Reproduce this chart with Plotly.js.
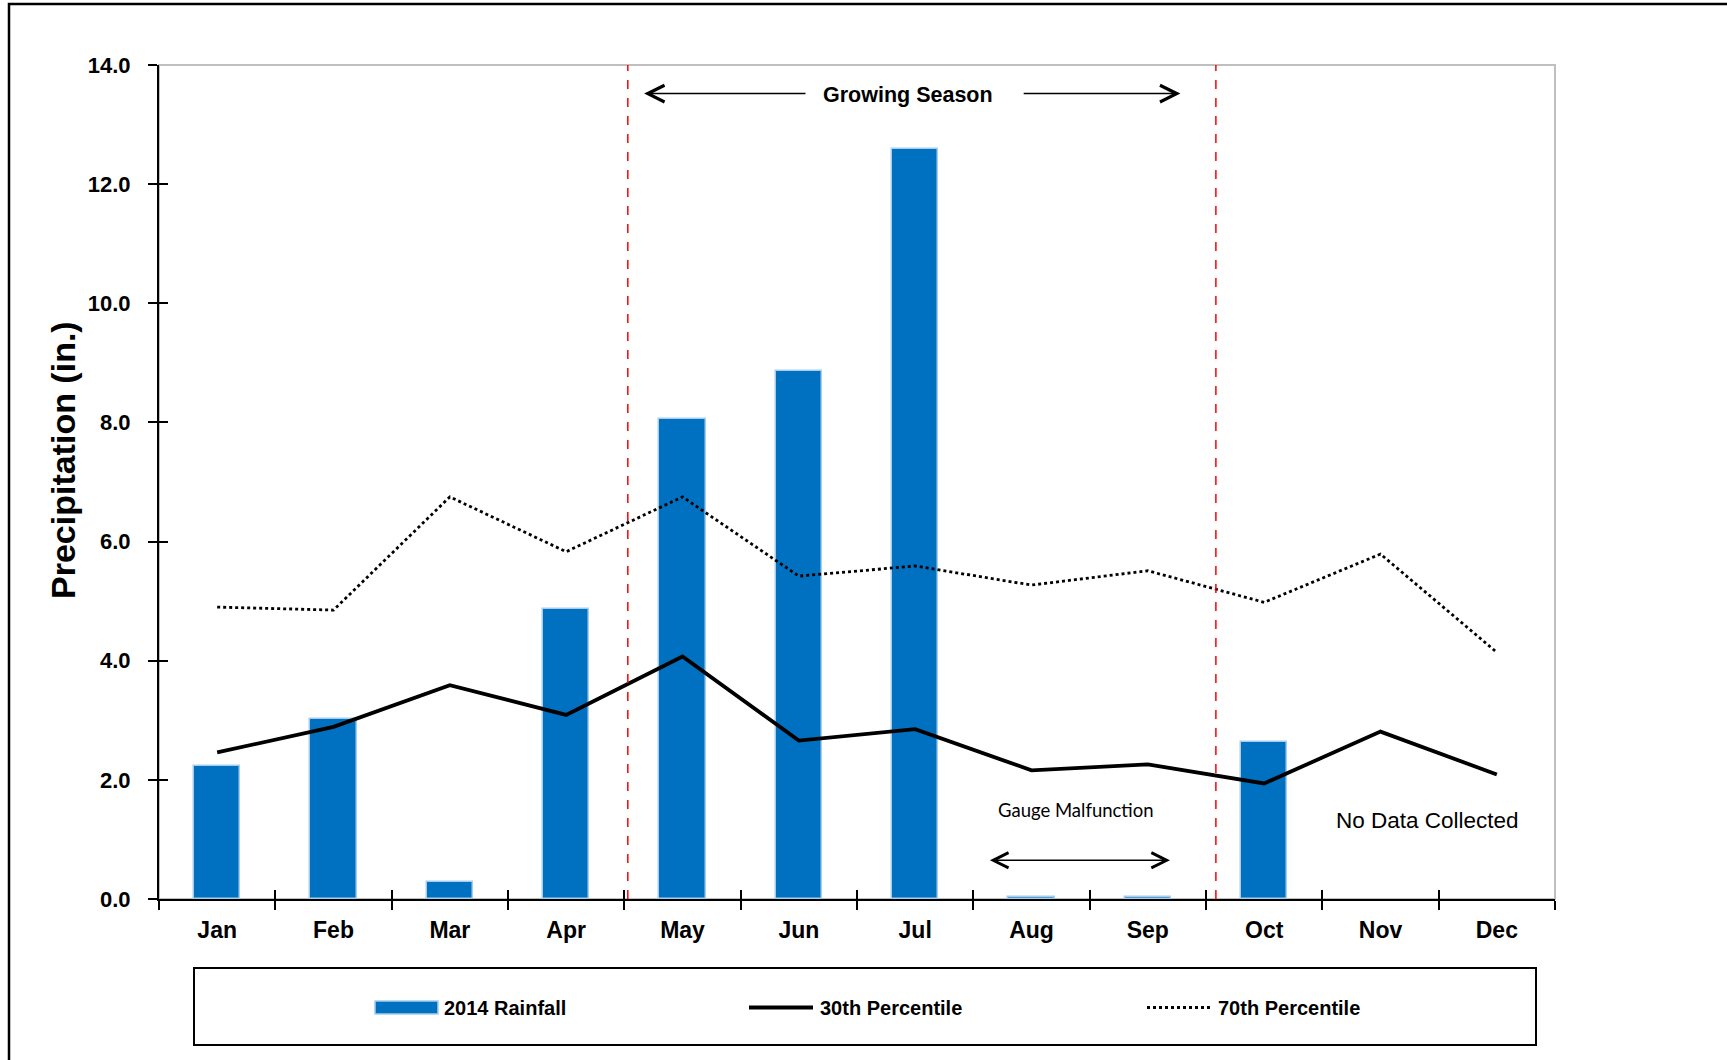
<!DOCTYPE html>
<html>
<head>
<meta charset="utf-8">
<script src="https://cdn.plot.ly/plotly-3.0.1.min.js"></script>
<style>
  html, body { margin: 0; padding: 0; background: #ffffff; }
  #chart { width: 1727px; height: 1060px; }
</style>
</head>
<body>
<div id="chart"></div>
<script>
// ---- data ----
var months = ["Jan", "Feb", "Mar", "Apr", "May", "Jun", "Jul", "Aug", "Sep", "Oct", "Nov", "Dec"];
var rainfall2014 = [2.24, 3.03, 0.28, 4.86, 8.06, 8.86, 12.59, 0.03, 0.03, 2.63, null, null];
var pct30 = [2.46, 2.89, 3.59, 3.09, 4.07, 2.66, 2.85, 2.16, 2.26, 1.94, 2.81, 2.09];
var pct70 = [4.90, 4.85, 6.75, 5.83, 6.75, 5.42, 5.59, 5.27, 5.51, 4.98, 5.79, 4.14];
var yTickVals = [0, 2, 4, 6, 8, 10, 12, 14];
var yTickText = ["0.0", "2.0", "4.0", "6.0", "8.0", "10.0", "12.0", "14.0"];
var seriesNames = ["2014 Rainfall", "30th Percentile", "70th Percentile"];

// ---- layout geometry (pixels) ----
var W = 1727, H = 1060;
var M = { l: 159, r: 172, t: 65, b: 161 };
var PW = W - M.l - M.r, PH = H - M.t - M.b;
function px(x) { return (x - M.l) / PW; }
function py(y) { return (H - M.b - y) / PH; }

var AX = "Liberation Sans, Arial, Helvetica, sans-serif";
var BLUE = "#0070C0";
var BLUE_EDGE = "#A8CDEA";

var traces = [
  {
    type: "bar", name: seriesNames[0], x: months, y: rainfall2014,
    width: 0.4,
    marker: { color: BLUE, line: { color: BLUE_EDGE, width: 1.5 } },
    hoverinfo: "x+y", showlegend: false
  },
  {
    type: "scatter", mode: "lines", name: seriesNames[1], x: months, y: pct30,
    line: { color: "#000000", width: 3.8 }, showlegend: false
  },
  {
    type: "scatter", mode: "lines", name: seriesNames[2], x: months, y: pct70,
    line: { color: "#000000", width: 2.8, dash: "dot" }, showlegend: false
  },
  {
    // carrier trace for the overlay axes that draw the inner half of the ticks
    type: "scatter", mode: "lines", x: months, y: months.map(function () { return null; }),
    xaxis: "x2", yaxis: "y2", showlegend: false, hoverinfo: "skip"
  }
];

var shapes = [
  // outer frame of the figure
  { type: "rect", xref: "paper", yref: "paper", x0: px(9), x1: px(1745), y0: py(1075), y1: py(4),
    line: { color: "#000000", width: 2.5 }, fillcolor: "rgba(0,0,0,0)", layer: "below" },
  // light grey plot-area frame
  { type: "rect", xref: "paper", yref: "paper", x0: 0, x1: 1, y0: 0, y1: 1,
    line: { color: "#BFBFBF", width: 2 }, fillcolor: "rgba(0,0,0,0)", layer: "below" },
  // growing season boundaries
  { type: "line", xref: "x", yref: "paper", x0: 3.53, x1: 3.53, y0: 0, y1: 1,
    line: { color: "#FF0000", width: 1.5, dash: "dash" } },
  { type: "line", xref: "x", yref: "paper", x0: 8.585, x1: 8.585, y0: 0, y1: 1,
    line: { color: "#FF0000", width: 1.5, dash: "dash" } },
  // legend box
  { type: "rect", xref: "paper", yref: "paper", x0: px(194), x1: px(1536), y0: py(1045), y1: py(968),
    line: { color: "#000000", width: 2 }, fillcolor: "rgba(0,0,0,0)" },
  // legend swatches
  { type: "rect", xref: "paper", yref: "paper", x0: px(375), x1: px(438), y0: py(1014), y1: py(1001),
    line: { color: BLUE_EDGE, width: 1.5 }, fillcolor: BLUE },
  { type: "line", xref: "paper", yref: "paper", x0: px(749), x1: px(813), y0: py(1007.5), y1: py(1007.5),
    line: { color: "#000000", width: 3.8 } },
  { type: "line", xref: "paper", yref: "paper", x0: px(1147), x1: px(1211), y0: py(1007.5), y1: py(1007.5),
    line: { color: "#000000", width: 2.8, dash: "dot" } }
];

var annotations = [
  // y-axis title
  { text: "<b>Precipitation (in.)</b>", xref: "paper", yref: "paper", x: px(63), y: py(460),
    textangle: -90, showarrow: false, xanchor: "center", yanchor: "middle",
    font: { family: AX, size: 34, color: "#000000" } },
  // growing season label and arrows
  { text: "<b>Growing Season</b>", xref: "x", yref: "y", x: 5.94, y: 13.5, showarrow: false,
    font: { family: AX, size: 21.5, color: "#000000" } },
  { text: "", xref: "x", yref: "y", axref: "x", ayref: "y", x: 3.67, y: 13.52, ax: 5.07, ay: 13.52,
    showarrow: true, arrowhead: 5, arrowsize: 2.2, arrowwidth: 1.5, arrowcolor: "#000000" },
  { text: "", xref: "x", yref: "y", axref: "x", ayref: "y", x: 8.28, y: 13.52, ax: 6.92, ay: 13.52,
    showarrow: true, arrowhead: 5, arrowsize: 2.2, arrowwidth: 1.5, arrowcolor: "#000000" },
  // gauge malfunction
  { text: "Gauge Malfunction", xref: "x", yref: "y", x: 7.38, y: 1.5, showarrow: false,
    font: { family: "Lato, Noto Sans, sans-serif", size: 18.5, color: "#000000" } },
  { text: "", xref: "x", yref: "y", axref: "x", ayref: "y", x: 8.19, y: 0.65, ax: 6.63, ay: 0.65,
    showarrow: true, arrowhead: 5, startarrowhead: 5, arrowside: "end+start",
    arrowsize: 2.0, startarrowsize: 2.0, arrowwidth: 1.5, arrowcolor: "#000000" },
  // no data collected
  { text: "No Data Collected", xref: "x", yref: "y", x: 10.4, y: 1.32, showarrow: false,
    font: { family: AX, size: 22.5, color: "#000000" } },
  // legend texts
  { text: "<b>" + seriesNames[0] + "</b>", xref: "paper", yref: "paper", x: px(442), y: py(1007.5),
    xanchor: "left", yanchor: "middle", showarrow: false, font: { family: AX, size: 20, color: "#000000" } },
  { text: "<b>" + seriesNames[1] + "</b>", xref: "paper", yref: "paper", x: px(818), y: py(1007.5),
    xanchor: "left", yanchor: "middle", showarrow: false, font: { family: AX, size: 20, color: "#000000" } },
  { text: "<b>" + seriesNames[2] + "</b>", xref: "paper", yref: "paper", x: px(1216), y: py(1007.5),
    xanchor: "left", yanchor: "middle", showarrow: false, font: { family: AX, size: 20, color: "#000000" } }
];

var layout = {
  width: W, height: H,
  margin: M,
  paper_bgcolor: "#ffffff", plot_bgcolor: "#ffffff",
  showlegend: false,
  bargap: 0,
  font: { family: AX, color: "#000000" },
  xaxis: {
    type: "category", categoryorder: "array", categoryarray: months,
    range: [-0.5, 11.5], fixedrange: true,
    showline: true, linecolor: "#000000", linewidth: 2,
    ticks: "outside", tickson: "boundaries", ticklen: 9, tickwidth: 2, tickcolor: "#000000",
    tickfont: { family: AX, size: 23, color: "#000000", weight: "bold" },
    ticklabelstandoff: 9,
    showgrid: false, zeroline: false
  },
  yaxis: {
    range: [0, 14], fixedrange: true,
    tickmode: "array", tickvals: yTickVals, ticktext: yTickText,
    showline: true, linecolor: "#000000", linewidth: 2,
    ticks: "outside", ticklen: 9, tickwidth: 2, tickcolor: "#000000",
    tickfont: { family: AX, size: 22, color: "#000000", weight: "bold" },
    ticklabelstandoff: 13,
    showgrid: false, zeroline: false
  },
  xaxis2: {
    overlaying: "x", anchor: "y2",
    type: "category", categoryorder: "array", categoryarray: months,
    range: [-0.5, 11.5], fixedrange: true,
    showline: false, ticks: "inside", tickson: "boundaries", ticklen: 9, tickwidth: 2, tickcolor: "#000000",
    showticklabels: false, showgrid: false, zeroline: false
  },
  yaxis2: {
    overlaying: "y", anchor: "x2", side: "left",
    range: [0, 14], fixedrange: true,
    tickmode: "array", tickvals: yTickVals,
    showline: false, ticks: "inside", ticklen: 9, tickwidth: 2, tickcolor: "#000000",
    showticklabels: false, showgrid: false, zeroline: false
  },
  shapes: shapes,
  annotations: annotations
};

Plotly.newPlot("chart", traces, layout, { displayModeBar: false, responsive: false });
</script>
</body>
</html>
